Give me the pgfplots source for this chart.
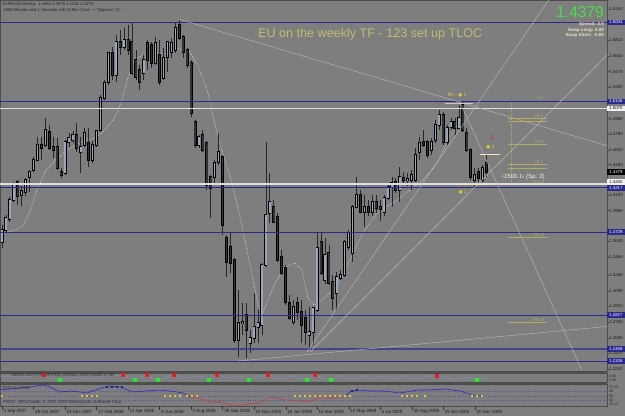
\documentclass[border=0pt]{standalone}
\usepackage{pgfplots}
\pgfplotsset{compat=1.18}
\usepackage{pgfplotstable}
\usepackage{fontspec}
\setmainfont{Liberation Sans}
\newfontfamily\dejavu{DejaVu Sans}
\definecolor{bg}{RGB}{126,126,126}
\definecolor{navy}{RGB}{42,42,140}
\definecolor{bullc}{RGB}{150,168,190}
\definecolor{bearc}{RGB}{50,50,50}
\definecolor{fan}{RGB}{182,182,182}
\definecolor{khaki}{RGB}{195,188,110}
\definecolor{fib}{RGB}{180,172,100}
\definecolor{ylw}{RGB}{230,200,50}
\definecolor{sep}{RGB}{78,78,78}
\definecolor{rsiblue}{RGB}{40,40,200}
\definecolor{rsired}{RGB}{200,60,70}
\definecolor{zig}{RGB}{120,140,170}
\definecolor{pinkl}{RGB}{220,190,210}
\definecolor{cream}{RGB}{250,225,190}
\definecolor{redm}{RGB}{230,30,30}
\definecolor{greenm}{RGB}{40,230,40}
\newcommand{\fs}[1]{\fontsize{#1}{#1}\selectfont}

\pgfplotstableread{
i o h l c
0 1.3620 1.3805 1.3555 1.3750
1 1.3750 1.3913 1.3729 1.3880
2 1.3870 1.4109 1.3837 1.4076
3 1.4076 1.4272 1.4054 1.4250
5 1.4130 1.4228 1.4011 1.4174
6 1.4163 1.4315 1.4119 1.4293
7 1.4326 1.4402 1.4163 1.4380
8 1.4402 1.4543 1.4380 1.4510
9 1.4510 1.4760 1.4500 1.4673
11 1.4673 1.4967 1.4652 1.4836
16 1.4369 1.4727 1.4348 1.4706
17 1.4706 1.4804 1.4652 1.4749
18 1.4727 1.4825 1.4695 1.4782
20 1.4597 1.4760 1.4369 1.4652
21 1.4673 1.4858 1.4652 1.4804
23 1.4510 1.4716 1.4478 1.4673
24 1.4673 1.4836 1.4652 1.4825
25 1.4836 1.5216 1.4815 1.5184
26 1.5184 1.5379 1.5162 1.5347
27 1.5357 1.5683 1.5325 1.5672
29 1.5433 1.5868 1.5357 1.5792
31 1.5738 1.5944 1.5705 1.5814
36 1.5455 1.5651 1.5379 1.5596
39 1.5564 1.5846 1.5542 1.5781
41 1.5401 1.5727 1.5379 1.5618
42 1.5629 1.5803 1.5466 1.5792
43 1.5683 1.5835 1.5618 1.5781
44 1.5705 1.5998 1.5672 1.5944
50 1.4673 1.4782 1.4641 1.4760
54 1.4326 1.4510 1.4239 1.4478
55 1.4489 1.4804 1.4456 1.4597
60 1.2556 1.3099 1.2371 1.2740
61 1.2740 1.2957 1.2610 1.2751
63 1.2523 1.2664 1.2414 1.2577
64 1.2577 1.3066 1.2523 1.2697
65 1.2697 1.2881 1.2523 1.2740
66 1.2719 1.3392 1.2610 1.3370
67 1.3370 1.4706 1.3348 1.3913
68 1.3935 1.4369 1.3826 1.4054
74 1.2751 1.2990 1.2719 1.2914
78 1.2610 1.2914 1.2447 1.2643
79 1.2643 1.2914 1.2501 1.2903
80 1.2881 1.3729 1.2860 1.3555
82 1.3207 1.3663 1.3164 1.3479
85 1.3066 1.3294 1.2881 1.3240
86 1.3229 1.3316 1.3207 1.3261
87 1.3261 1.3641 1.3240 1.3620
88 1.3566 1.3750 1.3533 1.3718
89 1.3500 1.4022 1.3403 1.4000
90 1.4000 1.4326 1.3989 1.4130
92 1.3946 1.4130 1.3783 1.4000
94 1.3946 1.4130 1.3902 1.4054
97 1.3946 1.4130 1.3902 1.4098
98 1.4098 1.4239 1.4076 1.4217
99 1.4217 1.4326 1.4000 1.4261
101 1.4184 1.4434 1.4054 1.4326
103 1.4293 1.4369 1.4228 1.4304
104 1.4293 1.4402 1.4184 1.4348
105 1.4293 1.4641 1.4272 1.4565
106 1.4597 1.4760 1.4510 1.4695
109 1.4619 1.4749 1.4565 1.4706
110 1.4727 1.4945 1.4695 1.4891
111 1.4891 1.5053 1.4836 1.5000
113 1.4706 1.4891 1.4673 1.4858
114 1.4869 1.4967 1.4836 1.4923
116 1.4858 1.5108 1.4836 1.4967
120 1.4293 1.4424 1.4217 1.4348
122 1.4293 1.4456 1.4272 1.4424
}\bull

\pgfplotstableread{
i o h l c
4 1.4272 1.4293 1.4022 1.4119
10 1.4673 1.4760 1.4510 1.4641
12 1.4815 1.4891 1.4619 1.4641
13 1.4652 1.4760 1.4532 1.4619
14 1.4652 1.4749 1.4402 1.4424
15 1.4380 1.4424 1.4315 1.4348
19 1.4782 1.4912 1.4597 1.4641
22 1.4695 1.4858 1.4434 1.4510
28 1.5672 1.5738 1.5379 1.5433
30 1.5792 1.5922 1.5651 1.5738
32 1.5814 1.5977 1.5651 1.5705
33 1.5792 1.6009 1.5433 1.5455
34 1.5596 1.5705 1.5379 1.5412
35 1.5488 1.5542 1.5270 1.5357
37 1.5781 1.5814 1.5488 1.5596
38 1.5759 1.5792 1.5510 1.5564
40 1.5651 1.5814 1.5325 1.5357
45 1.5977 1.6031 1.5814 1.5835
46 1.5846 1.5868 1.5618 1.5683
47 1.5705 1.5727 1.5510 1.5542
48 1.5564 1.5596 1.4977 1.5021
49 1.4923 1.4945 1.4641 1.4673
51 1.4782 1.4836 1.4597 1.4619
52 1.4695 1.4716 1.4184 1.4239
53 1.4326 1.4348 1.3880 1.4206
56 1.4543 1.4565 1.3696 1.3805
57 1.3663 1.3696 1.3240 1.3403
58 1.3566 1.3718 1.3283 1.3392
59 1.3424 1.3446 1.2523 1.2556
62 1.2827 1.2957 1.2360 1.2664
69 1.4000 1.4076 1.3826 1.3837
70 1.3891 1.3935 1.3403 1.3424
71 1.3457 1.3533 1.3261 1.3283
72 1.3338 1.3370 1.2935 1.2968
73 1.2957 1.3040 1.2773 1.2794
75 1.2957 1.3023 1.2773 1.2860
76 1.2860 1.2990 1.2523 1.2719
77 1.2794 1.2881 1.2501 1.2643
81 1.3620 1.3729 1.3261 1.3283
83 1.3501 1.3588 1.3153 1.3175
84 1.3186 1.3261 1.2881 1.3012
91 1.4130 1.4184 1.3935 1.3946
93 1.4000 1.4076 1.3902 1.3946
95 1.4054 1.4130 1.3935 1.3989
96 1.4000 1.4076 1.3848 1.3978
100 1.4272 1.4315 1.4152 1.4184
102 1.4315 1.4380 1.4239 1.4293
107 1.4706 1.4836 1.4652 1.4673
108 1.4706 1.4727 1.4532 1.4565
112 1.5000 1.5032 1.4673 1.4706
115 1.4923 1.4967 1.4782 1.4858
117 1.5108 1.5151 1.4815 1.4836
118 1.4804 1.4858 1.4597 1.4619
119 1.4619 1.4641 1.4293 1.4326
121 1.4380 1.4424 1.4272 1.4315
123 1.4484 1.4579 1.4326 1.4379
}\bear

\begin{document}
\begin{tikzpicture}[x=1pt,y=1pt]
\fill[bg] (0,0) rectangle (625,416);

% ================= main price panel =================
\begin{axis}[name=main, at={(0pt,45pt)}, anchor=south west,
  scale only axis, width=607pt, height=371pt,
  xmin=-0.51, xmax=153.6, ymin=1.2219, ymax=1.6248,
  axis line style={black!70, line width=0.6pt},
  xtick=\empty,
  ytick={1.6150,1.5810,1.5640,1.5470,1.5300,1.4960,1.4790,1.4620,1.4460,1.4130,1.3960,1.3630,1.3460,1.3260,1.3090,1.2920,1.2750,1.2580,1.2410,1.2240},
  yticklabels={1.6150,1.5810,1.5640,1.5470,1.5300,1.4960,1.4790,1.4620,1.4460,1.4130,1.3960,1.3630,1.3460,1.3260,1.3090,1.2920,1.2750,1.2580,1.2410,1.2240},
  ytick pos=right, yticklabel pos=right, tick align=outside, major tick length=1.5pt,
  tick style={black!80, line width=0.4pt},
  yticklabel style={font=\fs{4.3}, color=black!90, inner sep=0.8pt},
  clip=true]

% dotted smoothed curve
\addplot[white!80!gray, line width=0.6pt, dash pattern=on 0.7pt off 1.3pt] coordinates {
(0.25,1.3718) (3.3,1.3750) (5.3,1.3794) (7.1,1.3946) (8.9,1.4184) (10.9,1.4380) (13.5,1.4510)
(16.5,1.4619) (20.6,1.4717) (23.6,1.4749) (26.1,1.4836) (28.7,1.4977) (30.5,1.5162) (32.0,1.5401)
(33.5,1.5596) (35.8,1.5651) (38.8,1.5672) (41.9,1.5662) (44.7,1.5716) (47.2,1.5716) (49.7,1.5542)
(52.3,1.5238) (54.1,1.4891) (55.8,1.4619) (58.4,1.4261) (60.9,1.3805) (63.5,1.3262) (65.0,1.2936)
(66.2,1.2849) (67.5,1.2990) (69.3,1.3175) (71.8,1.3348) (74.4,1.3392) (76.1,1.3316) (77.7,1.3012)
(79.2,1.2936) (81.2,1.2990) (85.0,1.3131) (88.3,1.3424) (91.6,1.3718) (95.2,1.3935) (100.3,1.4076)
(103.6,1.4184) (106.9,1.4293) (110.4,1.4478) (113.7,1.4760) (116.2,1.4923)};

% wicks
\addplot[draw=none, mark=none, error bars/.cd, y dir=both, y explicit, error mark=none,
  error bar style={draw=black!85, line width=0.8pt}]
  table[x=i, y expr={(\thisrow{h}+\thisrow{l})/2}, y error expr={(\thisrow{h}-\thisrow{l})/2}] {\bull};
\addplot[draw=none, mark=none, error bars/.cd, y dir=both, y explicit, error mark=none,
  error bar style={draw=black!85, line width=0.8pt}]
  table[x=i, y expr={(\thisrow{h}+\thisrow{l})/2}, y error expr={(\thisrow{h}-\thisrow{l})/2}] {\bear};
% bodies
\addplot[draw=none, mark=none, error bars/.cd, y dir=both, y explicit, error mark=none,
  error bar style={draw=black, line width=3pt}]
  table[x=i, y expr={(\thisrow{o}+\thisrow{c})/2}, y error expr={abs(\thisrow{o}-\thisrow{c})/2+0.0008}] {\bull};
\addplot[draw=none, mark=none, error bars/.cd, y dir=both, y explicit, error mark=none,
  error bar style={draw=bullc, line width=1.5pt}]
  table[x=i, y expr={(\thisrow{o}+\thisrow{c})/2}, y error expr={abs(\thisrow{o}-\thisrow{c})/2}] {\bull};
\addplot[draw=none, mark=none, error bars/.cd, y dir=both, y explicit, error mark=none,
  error bar style={draw=black, line width=3pt}]
  table[x=i, y expr={(\thisrow{o}+\thisrow{c})/2}, y error expr={abs(\thisrow{o}-\thisrow{c})/2+0.0008}] {\bear};
\addplot[draw=none, mark=none, error bars/.cd, y dir=both, y explicit, error mark=none,
  error bar style={draw=bearc, line width=1.5pt}]
  table[x=i, y expr={(\thisrow{o}+\thisrow{c})/2}, y error expr={abs(\thisrow{o}-\thisrow{c})/2}] {\bear};

% horizontal levels
\addplot[navy, line width=0.8pt] coordinates {(-1,1.6004) (155,1.6004)};
\addplot[navy, line width=0.8pt] coordinates {(-1,1.5146) (155,1.5146)};
\addplot[white!75!gray, line width=1.1pt] coordinates {(-1,1.5070) (155,1.5070)};
\addplot[white!75!gray, line width=1.3pt] coordinates {(-1,1.4250) (155,1.4250)};
\addplot[navy, line width=0.8pt] coordinates {(-1,1.4217) (155,1.4217)};
\addplot[navy, line width=0.8pt] coordinates {(-1,1.3729) (155,1.3729)};
\addplot[navy, line width=0.8pt] coordinates {(-1,1.2827) (155,1.2827)};
\addplot[navy!70!gray, line width=1.6pt] coordinates {(-1,1.2458) (155,1.2458)};
\addplot[navy, line width=0.8pt] coordinates {(-1,1.2328) (155,1.2328)};

% fan / trend lines
\addplot[fan, line width=0.45pt] coordinates {(44.67,1.6042) (153.6,1.4666)};
\addplot[fan, line width=0.45pt] coordinates {(59.9,1.2327) (153.6,1.2702)};
\addplot[fan, line width=0.45pt] coordinates {(77.4,1.2425) (138.8,1.6248)};
\addplot[fan, line width=0.45pt] coordinates {(78.2,1.2425) (153.6,1.5651)};
\addplot[fan, line width=0.45pt] coordinates {(116.0,1.5162) (147.2,1.2230)};

% fibonacci levels
\addplot[fib, line width=0.6pt] coordinates {(128.4,1.4966) (138.3,1.4966)};
\addplot[fib, line width=0.6pt] coordinates {(128.4,1.4934) (138.3,1.4934)};
\addplot[fib, line width=0.6pt] coordinates {(128.4,1.4684) (138.3,1.4684)};
\addplot[fib, line width=0.6pt] coordinates {(128.4,1.4467) (138.3,1.4467)};
\addplot[fib, line width=0.6pt] coordinates {(128.4,1.4424) (138.3,1.4424)};
\addplot[fib, line width=0.6pt] coordinates {(128.4,1.3674) (138.3,1.3674)};
\addplot[fib, line width=0.6pt] coordinates {(128.4,1.2751) (138.3,1.2751)};
\addplot[fib, line width=0.7pt, dash pattern=on 1pt off 1pt] coordinates {(129.2,1.5129) (129.2,1.4272)};

% pattern markers
\addplot[pinkl, line width=1pt] coordinates {(112.4,1.5129) (119.5,1.5129)};
\addplot[cream, line width=1.1pt] coordinates {(121.3,1.4575) (126.4,1.4575)};
\addplot[cream, line width=1.1pt] coordinates {(116.2,1.4244) (123.6,1.4244)};

\node[anchor=west, text=fib, font=\fs{4.5}, inner sep=0.5pt] at (axis cs:135.5,1.5185) {0.0};
\node[anchor=west, text=fib, font=\fs{4.5}, inner sep=0.5pt] at (axis cs:135.0,1.4985) {23.6};
\node[anchor=west, text=fib, font=\fs{4.5}, inner sep=0.5pt] at (axis cs:135.0,1.4705) {50.0};
\node[anchor=west, text=fib, font=\fs{4.5}, inner sep=0.5pt] at (axis cs:135.0,1.4487) {76.4};
\node[anchor=west, text=fib, font=\fs{4.5}, inner sep=0.5pt] at (axis cs:134.6,1.4272) {100.0};
\node[anchor=west, text=fib, font=\fs{4.5}, inner sep=0.5pt] at (axis cs:134.6,1.3695) {161.8};
\node[anchor=west, text=fib, font=\fs{4.5}, inner sep=0.5pt] at (axis cs:134.6,1.2772) {261.8};

\node[anchor=west, text=ylw, font=\dejavu\fs{4.5}, inner sep=0.5pt] at (axis cs:113.0,1.5215) {Rh - ● 1};
\node[anchor=west, text=ylw, font=\dejavu\fs{4.5}, inner sep=0.5pt] at (axis cs:115.8,1.4165) {● 2};
\node[anchor=west, text=ylw, font=\dejavu\fs{4.5}, inner sep=0.5pt] at (axis cs:122.8,1.4655) {● 3};
\node[anchor=center, text=redm, font=\dejavu\fs{7}, inner sep=0] at (axis cs:124.4,1.4750) {⇩};
\node[anchor=west, text=white!90!gray, font=\fs{6}, inner sep=0.5pt] at (axis cs:126.8,1.4330) {‹1500.1› (Sp: 2)};
\end{axis}

% ================= price tags =================
\tikzset{tag/.style={anchor=west, inner sep=0.3pt, minimum height=5.5pt, minimum width=17.5pt, font=\fs{4.3}}}
\node[tag, fill=navy, text=white] at (607,416-22.5) {1.6004};
\node[tag, fill=navy, text=white] at (607,416-101.5) {1.5146};
\node[tag, fill=white!90!gray, text=black] at (607,416-108.5) {1.5070};
\node[tag, fill=black, text=white] at (607,416-172) {1.4379};
\node[tag, fill=white!90!gray, text=black] at (607,416-182) {1.4250};
\node[tag, fill=navy, text=white] at (607,416-188) {1.4217};
\node[tag, fill=navy, text=white] at (607,416-232) {1.3729};
\node[tag, fill=navy, text=white] at (607,416-315) {1.2827};
\node[tag, fill=navy, text=white] at (607,416-349) {1.2458};
\node[tag, fill=navy, text=white] at (607,416-361) {1.2328};

% ================= indicator panel 1 =================
\begin{axis}[at={(0pt,34pt)}, anchor=south west, scale only axis, width=607pt, height=9pt,
  xmin=0, xmax=607, ymin=0, ymax=9, axis line style={black!70, line width=0.5pt},
  xtick=\empty, ytick=\empty, clip=true]
\addplot[zig, line width=0.9pt] coordinates {
(0,6) (20,5) (44,7) (52,4) (60,2) (75,5) (90,3) (105,6) (123,7) (130,4) (135,2) (147,7) (152,4) (158,2)
(166,5) (174,7) (185,4) (200,6) (209,2) (217,7) (230,4) (240,6) (249,2) (258,5) (268,7) (280,3) (290,6)
(300,4) (307,2) (315,7) (322,4) (331,2) (340,6) (352,3) (362,6) (372,3) (383,6) (395,3) (405,6) (415,3)
(425,5) (437,7) (447,4) (457,2) (467,5) (477,2) (487,5)};
\addplot[only marks, mark=square*, mark size=1.4pt, mark options={fill=redm, draw=redm}]
 coordinates {(44,7) (123,7) (147,7) (174,7) (217,7) (268,7) (315,7) (437,6)};
\addplot[only marks, mark=square*, mark size=1.4pt, mark options={fill=greenm, draw=greenm}]
 coordinates {(60,2) (135,2) (158,2) (209,2) (249,2) (307,2) (331,2) (477,2)};
\end{axis}
\node[anchor=west, font=\fs{4.3}, text=black!80, inner sep=0] at (12,416-375.5) {ARHA CENTER TIPPING SIGNAL AVG 0.8000 1.780};
\node[anchor=west, font=\fs{3.6}, text=black!85, inner sep=0] at (609,416-376) {4.80};
\node[anchor=west, font=\fs{3.6}, text=black!85, inner sep=0] at (609,416-380) {0.00};

% ================= RSI panel =================
\begin{axis}[at={(0pt,10pt)}, anchor=south west, scale only axis, width=607pt, height=22pt,
  xmin=0, xmax=607, ymin=0, ymax=22, axis line style={black!70, line width=0.5pt},
  xtick=\empty, ytick=\empty, clip=true]
\addplot[navy!80, line width=0.4pt, dash pattern=on 1pt off 1.5pt] coordinates {(0,14.5) (607,14.5)};
\addplot[navy!80, line width=0.4pt, dash pattern=on 1pt off 1.5pt] coordinates {(0,9.5) (607,9.5)};
\addplot[navy!80, line width=0.4pt, dash pattern=on 1pt off 1.5pt] coordinates {(0,5.5) (607,5.5)};
\addplot[rsiblue, line width=0.6pt] coordinates {(0,16) (10,17) (20,18) (30,19) (43,21) (50,19) (60,14) (70,15) (80,14) (87,13) (95,16) (105,19) (110,20) (120,19) (133,14) (145,15) (160,16) (170,15) (183,13) (190,9)};
\addplot[rsired, line width=0.6pt] coordinates {(190,9) (197,8) (210,4) (220,4) (230,1) (240,0.6) (250,2) (260,3) (270,9) (280,7) (287,6) (300,5) (307,4) (320,8) (337,8) (345,10)};
\addplot[rsiblue, line width=0.6pt] coordinates {(345,10) (350,14) (357,16) (370,15) (385,15) (400,13) (417,16) (430,16) (445,17) (460,15) (472,11) (483,10)};
\addplot[only marks, mark=square*, mark size=0.6pt, mark options={fill=ylw, draw=ylw}] coordinates {
(2,10) (82,10) (87,10) (92,10) (97,10) (165,10) (170,10) (175,10) (180,10) (187,10) (192,10) (197,10)
(295,10) (300,10) (305,10) (310,10) (315,10) (320,10) (325,10) (330,10) (335,10) (340,10) (345,10) (350,10)
(402,10) (407,10) (412,10) (417,10) (425,10) (472,10) (477,10) (482,10)};
\addplot[only marks, mark=square*, mark size=0.6pt, mark options={fill=rsiblue!70!black, draw=rsiblue!70!black}] coordinates {
(107,19.5) (112,19.5) (117,19.5) (122,19.5) (352,15) (357,16)};
\end{axis}
\node[anchor=west, font=\fs{4.3}, text=black!80, inner sep=0] at (3,416-388) {RSI(14) 60.96};
\node[anchor=west, font=\fs{4.3}, text=black!80, inner sep=0] at (3,416-402) {FXDD - MetaTrader, © 2001-2009 MetaQuotes Software Corp.};
\foreach \yy/\t in {387/75.23, 391/60, 396/50, 400/40, 404/25.13}{
  \node[anchor=west, font=\fs{3.6}, text=black!85, inner sep=0] at (609,416-\yy) {\t};
}

% separators
\fill[sep] (0,416-373) rectangle (607,416-371.5);
\fill[sep] (0,416-384) rectangle (607,416-382.5);

% ================= top texts =================
\node[anchor=west, font=\fs{4.2}, text=black!85, inner sep=0] at (3,416-4) {EURUSD,Weekly\ \ 1.4484 1.4579 1.4326 1.4379};
\node[anchor=west, font=\fs{4.2}, text=black!85, inner sep=0] at (3,416-10) {1500 Minutes and 1 Seconds Left to Bar Close. + "(Spread: 2)"};
\node[anchor=west, font=\fs{12.6}, text=khaki, inner sep=0] at (258,416-34) {EU on the weekly TF - 123 set up TLOC};
\node[anchor=east, font=\fs{15.5}, text={rgb,255:red,70;green,225;blue,70}, inner sep=0] at (604,416-12) {1.4379};
\node[anchor=east, font=\bfseries\fs{4.5}, text={rgb,255:red,238;green,228;blue,190}, inner sep=0] at (604,416-24) {Spread: 2.0};
\node[anchor=east, font=\bfseries\fs{4.5}, text={rgb,255:red,238;green,228;blue,190}, inner sep=0] at (604,416-30) {Swap Long: 0.00};
\node[anchor=east, font=\bfseries\fs{4.5}, text={rgb,255:red,238;green,228;blue,190}, inner sep=0] at (604,416-35.5) {Swap Short: -0.60};

% ================= date axis =================
\foreach \x/\t in {2/2 Sep 2007, 33.5/28 Oct 2007, 65/23 Dec 2007, 96.6/17 Feb 2008, 128/13 Apr 2008, 159.6/8 Jun 2008, 191/3 Aug 2008, 222.6/28 Sep 2008, 254/23 Nov 2008, 285.7/18 Jan 2009, 317/15 Mar 2009, 348.7/10 May 2009, 380/5 Jul 2009, 411.8/30 Aug 2009, 443/25 Oct 2009, 474.8/20 Dec 2009}{
  \draw[black!80, line width=0.4pt] (\x,416-406) -- (\x,416-410);
  \node[anchor=west, font=\fs{4.5}, text=black!90, inner sep=0] at (\x+1.5,416-411.5) {\t};
}

\pgfresetboundingbox
\useasboundingbox (0,0) rectangle (625,416);
\end{tikzpicture}
\end{document}
